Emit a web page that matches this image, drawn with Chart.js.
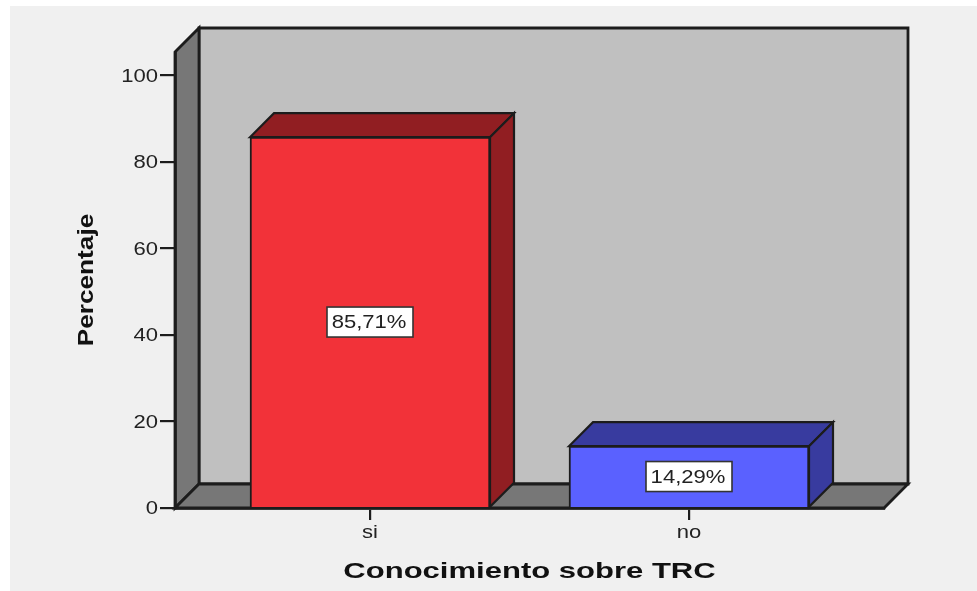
<!DOCTYPE html>
<html><head><meta charset="utf-8">
<style>html,body{margin:0;padding:0;background:#fff;overflow:hidden}canvas{display:block}</style>
<script src="https://cdn.jsdelivr.net/npm/chart.js@4"></script>
</head><body>
<canvas id="c" width="977" height="591"></canvas>
<script>
const categories = ['si', 'no'];
const categoryPositions = [1, 2];
const percentages = [85.71, 14.29];
const yTickValues = [0, 20, 40, 60, 80, 100];
const frontColors = ['#f23239', '#5a61ff'];
const sideColors = ['#911e22', '#383b9f'];
const yAxisTitle = 'Percentaje';
const xAxisTitle = 'Conocimiento sobre TRC';

const DEPTH = 24, INK = '#1c1c1c';

function poly(ctx, pts, fill) {
  ctx.beginPath();
  pts.forEach((p, i) => i ? ctx.lineTo(p[0], p[1]) : ctx.moveTo(p[0], p[1]));
  ctx.closePath();
  ctx.fillStyle = fill;
  ctx.fill();
  ctx.stroke();
}

// The reference text is horizontally stretched: widen glyphs along the text direction.
function stretchFor(text) {
  if (text === xAxisTitle) return 1.41;
  if (text === yAxisTitle) return 1.19;
  return 1.16;
}

const scene = {
  id: 'scene',
  beforeInit(chart) {
    const ctx = chart.ctx, base = ctx.fillText;
    ctx.fillText = function (text, x, y, maxWidth) {
      this.save();
      this.translate(x, y);
      this.scale(stretchFor(String(text)), 1);
      if (maxWidth === undefined) base.call(this, text, 0, 0);
      else base.call(this, text, 0, 0, maxWidth);
      this.restore();
    };
  },
  beforeDraw(chart) {
    const { ctx, chartArea: a } = chart;
    ctx.save();
    ctx.fillStyle = '#f0f0f0';
    ctx.fillRect(10, 6, 967, 585);
    ctx.strokeStyle = INK;
    ctx.lineWidth = 2.8;
    ctx.lineJoin = 'miter';
    poly(ctx, [[a.left + DEPTH, a.top - DEPTH], [a.right + DEPTH, a.top - DEPTH], [a.right + DEPTH, a.bottom - DEPTH], [a.left + DEPTH, a.bottom - DEPTH]], '#c0c0c0');
    poly(ctx, [[a.left, a.top], [a.left + DEPTH, a.top - DEPTH], [a.left + DEPTH, a.bottom - DEPTH], [a.left, a.bottom]], '#777777');
    poly(ctx, [[a.left, a.bottom], [a.left + DEPTH, a.bottom - DEPTH], [a.right + DEPTH, a.bottom - DEPTH], [a.right, a.bottom]], '#777777');
    ctx.restore();
  },
  beforeDatasetsDraw(chart) {
    const { ctx } = chart;
    const meta = chart.getDatasetMeta(0);
    ctx.save();
    ctx.strokeStyle = INK;
    ctx.lineWidth = 2.2;
    ctx.lineJoin = 'miter';
    meta.data.forEach((bar, i) => {
      const p = bar.getProps(['x', 'y', 'base', 'width'], true);
      const l = p.x - p.width / 2, r = p.x + p.width / 2;
      poly(ctx, [[l, p.y], [l + DEPTH, p.y - DEPTH], [r + DEPTH, p.y - DEPTH], [r, p.y]], sideColors[i]);
      poly(ctx, [[r, p.y], [r + DEPTH, p.y - DEPTH], [r + DEPTH, p.base - DEPTH], [r, p.base]], sideColors[i]);
    });
    ctx.restore();
  },
  afterDatasetsDraw(chart) {
    const { ctx } = chart;
    const meta = chart.getDatasetMeta(0);
    ctx.save();
    ctx.font = '19px "Liberation Sans"';
    ctx.textAlign = 'center';
    ctx.textBaseline = 'middle';
    meta.data.forEach((bar, i) => {
      const p = bar.getProps(['x', 'y', 'base'], true);
      const cy = (p.y + p.base) / 2;
      ctx.fillStyle = '#ffffff';
      ctx.strokeStyle = '#333333';
      ctx.lineWidth = 1.6;
      ctx.fillRect(p.x - 43, cy - 15, 86, 30);
      ctx.strokeRect(p.x - 43, cy - 15, 86, 30);
      ctx.fillStyle = '#222222';
      ctx.fillText(percentages[i].toFixed(2).replace('.', ',') + '%', p.x - 1, cy + 1);
    });
    ctx.restore();
  }
};

new Chart(document.getElementById('c'), {
  type: 'bar',
  plugins: [scene],
  data: {
    datasets: [{
      data: categoryPositions.map((x, i) => ({ x, y: percentages[i] })),
      backgroundColor: frontColors,
      borderColor: INK,
      borderWidth: 2,
      barThickness: 240
    }]
  },
  options: {
    responsive: false,
    animation: false,
    layout: { padding: { left: 0, top: 52, right: 93, bottom: 0 } },
    plugins: { legend: { display: false }, tooltip: { enabled: false } },
    scales: {
      x: {
        type: 'linear',
        offset: false,
        min: 0.3887,
        max: 2.6113,
        afterFit(s) { s.height = 83; },
        afterBuildTicks(s) { s.ticks = categoryPositions.map(value => ({ value })); },
        grid: { offset: false, drawOnChartArea: false, drawTicks: true, tickLength: 12, color: INK, lineWidth: 2.2 },
        border: { display: true, color: INK, width: 2.8 },
        ticks: {
          autoSkip: false, maxRotation: 0, padding: 1, color: '#222222',
          font: { family: '"Liberation Sans"', size: 19 },
          callback(v) { return categories[categoryPositions.indexOf(v)]; }
        },
        title: {
          display: true, text: xAxisTitle, color: '#111111',
          font: { family: '"Liberation Sans"', size: 22, weight: 'bold' },
          padding: { top: 0, bottom: 6 }
        }
      },
      y: {
        type: 'linear',
        min: 0,
        max: 105.4,
        afterFit(s) { s.width = 175; },
        afterBuildTicks(s) { s.ticks = yTickValues.map(value => ({ value })); },
        grid: { drawOnChartArea: false, drawTicks: true, tickLength: 15, color: INK, lineWidth: 2.2 },
        border: { display: true, color: INK, width: 2.8 },
        ticks: {
          padding: 2, color: '#222222', labelOffset: 1,
          font: { family: '"Liberation Sans"', size: 19 }
        },
        title: {
          display: true, text: yAxisTitle, color: '#111111',
          font: { family: '"Liberation Sans"', size: 22, weight: 'bold' },
          padding: { top: 74, bottom: 0 }
        }
      }
    }
  }
});
</script>
</body></html>
